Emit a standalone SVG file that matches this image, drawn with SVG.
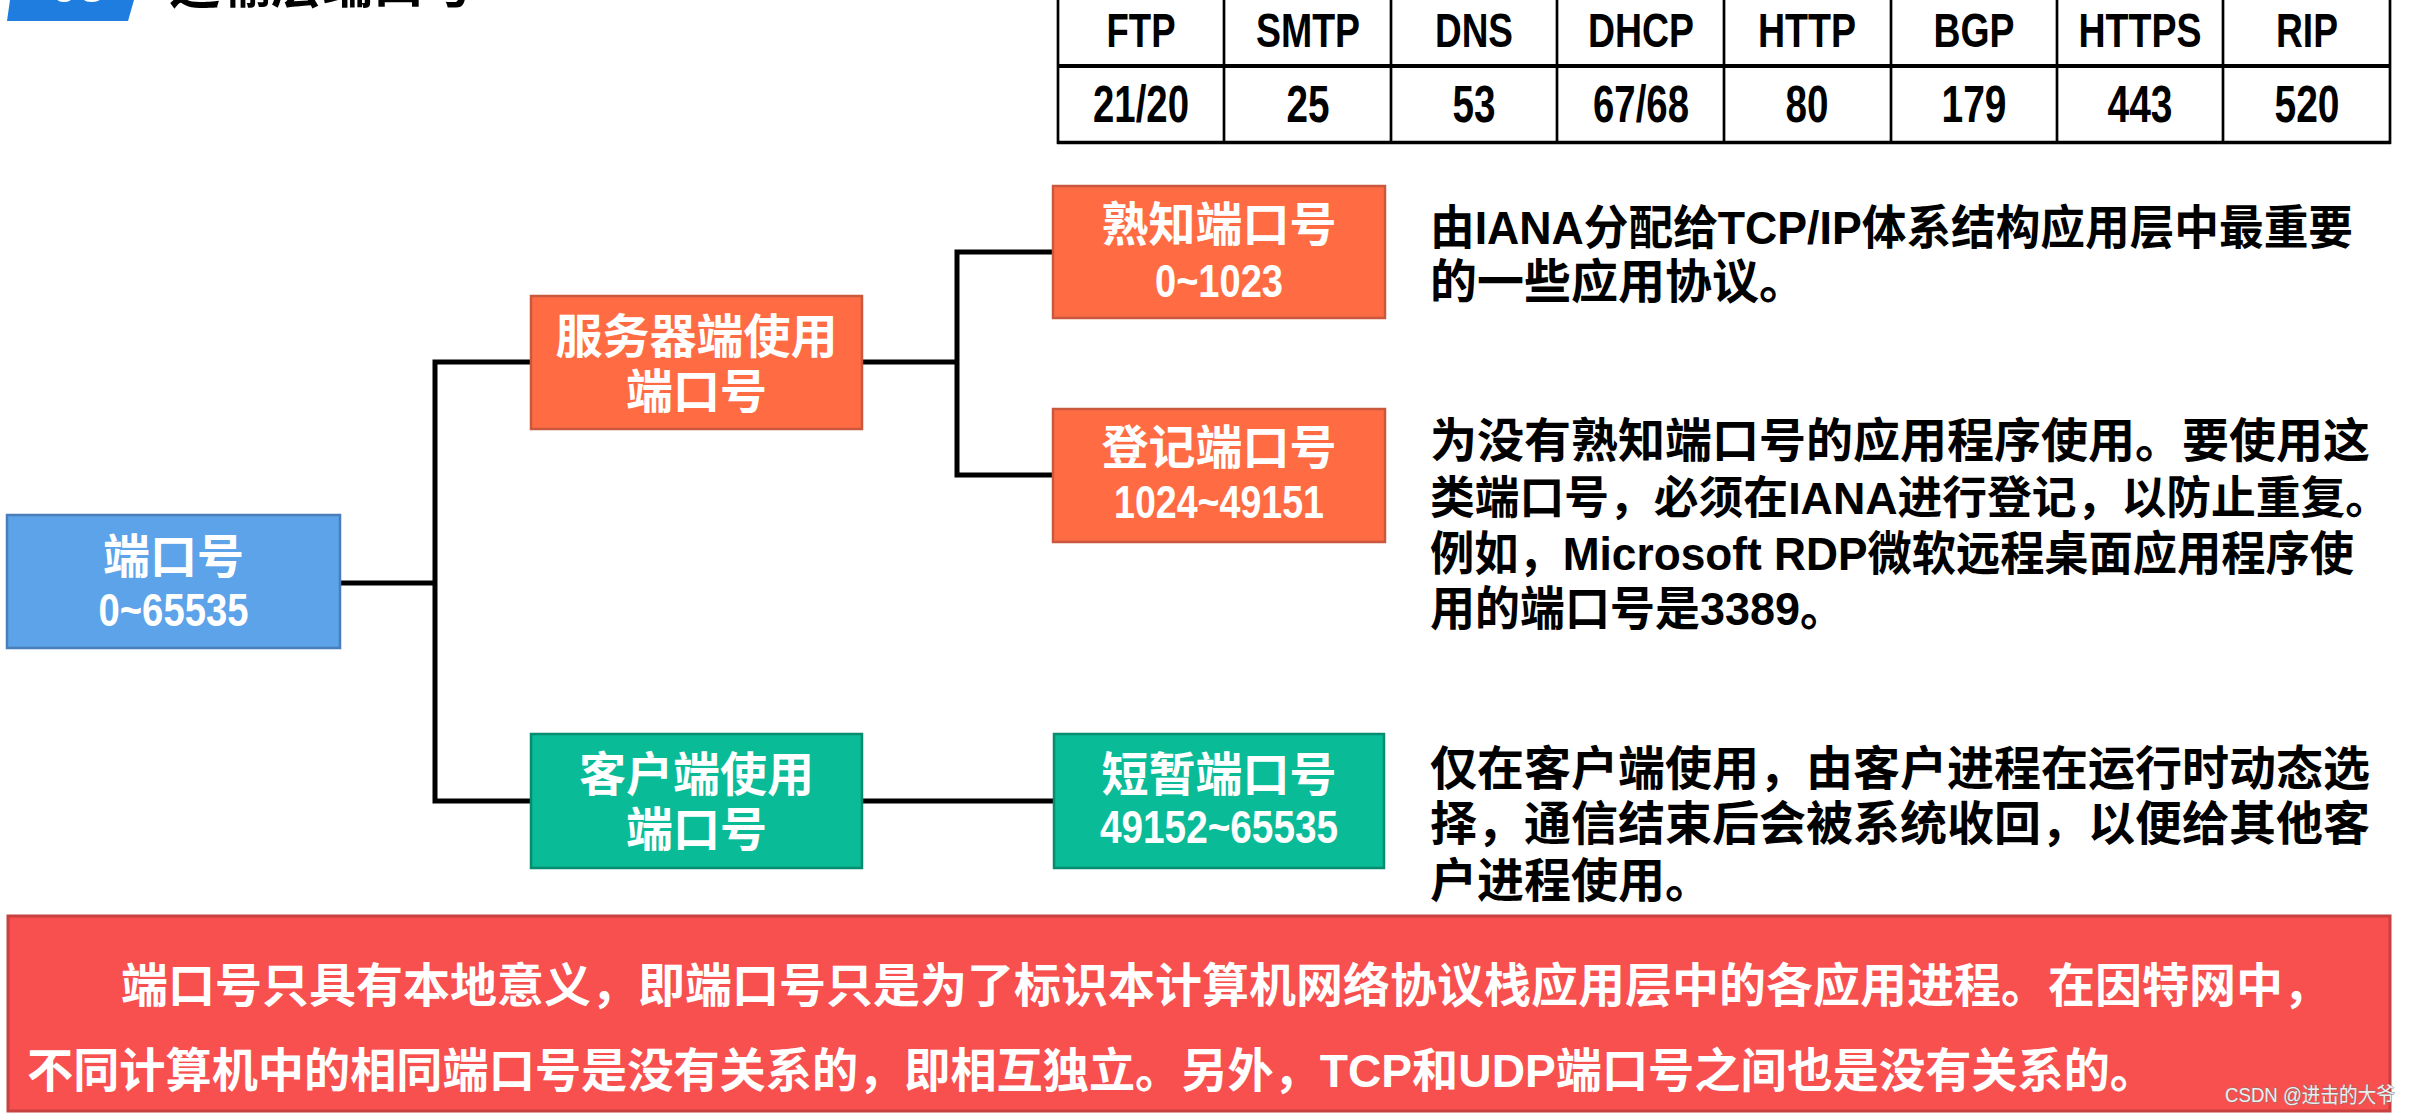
<svg xmlns="http://www.w3.org/2000/svg" width="2415" height="1116" viewBox="0 0 2415 1116">
<style>
.cjk{font-family:"Liberation Sans","Noto Sans CJK SC",sans-serif;font-weight:bold}
.nt{fill:#ffffff;font-size:47px;text-anchor:middle}
.desc{fill:#000000;font-size:47px}
.note{fill:#ffffff;font-size:47px}
.tb{fill:#000000;text-anchor:middle;font-family:"Liberation Sans",sans-serif;font-weight:bold}
.th{font-size:48px}
.td{font-size:52px}
.blue{fill:#5CA3E9;stroke:#4A7EBB;stroke-width:2.5}
.orange{fill:#FF6C44;stroke:#C9583C;stroke-width:2.5}
.green{fill:#0ABB97;stroke:#078C70;stroke-width:2.5}
.conn{fill:none;stroke:#000000;stroke-width:5;stroke-linecap:butt;stroke-linejoin:miter}
.grid{stroke:#000000;stroke-width:2.7}
</style>
<rect x="0" y="0" width="2415" height="1116" fill="#ffffff"/>

<g id="title">
  <polygon points="10,0 134,0 128,21 7,21" fill="#1E7DDF"/>
  <text x="78" y="2" class="cjk" font-size="50" fill="#ffffff" text-anchor="middle">05</text>
  <text x="169" y="3" class="cjk" font-size="51" fill="#000000">运输层端口号</text>
</g>

<g id="port-table">
  <line class="grid" x1="1058" y1="-5" x2="1058" y2="144"/>
  <line class="grid" x1="1224" y1="-5" x2="1224" y2="144"/>
  <line class="grid" x1="1391" y1="-5" x2="1391" y2="144"/>
  <line class="grid" x1="1557" y1="-5" x2="1557" y2="144"/>
  <line class="grid" x1="1724" y1="-5" x2="1724" y2="144"/>
  <line class="grid" x1="1891" y1="-5" x2="1891" y2="144"/>
  <line class="grid" x1="2057" y1="-5" x2="2057" y2="144"/>
  <line class="grid" x1="2223" y1="-5" x2="2223" y2="144"/>
  <line class="grid" x1="2390" y1="-5" x2="2390" y2="144"/>
  <line x1="1057" y1="66" x2="2391" y2="66" stroke="#000000" stroke-width="4"/>
  <line x1="1057" y1="142.5" x2="2391" y2="142.5" stroke="#000000" stroke-width="3.5"/>
  <text class="tb th" x="1141" y="47" textLength="69" lengthAdjust="spacingAndGlyphs">FTP</text>
  <text class="tb th" x="1308" y="47" textLength="104" lengthAdjust="spacingAndGlyphs">SMTP</text>
  <text class="tb th" x="1474" y="47" textLength="78" lengthAdjust="spacingAndGlyphs">DNS</text>
  <text class="tb th" x="1641" y="47" textLength="106" lengthAdjust="spacingAndGlyphs">DHCP</text>
  <text class="tb th" x="1807" y="47" textLength="98" lengthAdjust="spacingAndGlyphs">HTTP</text>
  <text class="tb th" x="1974" y="47" textLength="81" lengthAdjust="spacingAndGlyphs">BGP</text>
  <text class="tb th" x="2140" y="47" textLength="123" lengthAdjust="spacingAndGlyphs">HTTPS</text>
  <text class="tb th" x="2307" y="47" textLength="62" lengthAdjust="spacingAndGlyphs">RIP</text>
  <text class="tb td" x="1141" y="122" textLength="96" lengthAdjust="spacingAndGlyphs">21/20</text>
  <text class="tb td" x="1308" y="122" textLength="43" lengthAdjust="spacingAndGlyphs">25</text>
  <text class="tb td" x="1474" y="122" textLength="43" lengthAdjust="spacingAndGlyphs">53</text>
  <text class="tb td" x="1641" y="122" textLength="96" lengthAdjust="spacingAndGlyphs">67/68</text>
  <text class="tb td" x="1807" y="122" textLength="43" lengthAdjust="spacingAndGlyphs">80</text>
  <text class="tb td" x="1974" y="122" textLength="65" lengthAdjust="spacingAndGlyphs">179</text>
  <text class="tb td" x="2140" y="122" textLength="65" lengthAdjust="spacingAndGlyphs">443</text>
  <text class="tb td" x="2307" y="122" textLength="65" lengthAdjust="spacingAndGlyphs">520</text>
</g>

<g id="connectors">
  <path class="conn" d="M340 583 H435"/>
  <path class="conn" d="M531 362 H435 V801 H531"/>
  <path class="conn" d="M862 362 H957"/>
  <path class="conn" d="M1053 252 H957 V475 H1053"/>
  <path class="conn" d="M862 801 H1054"/>
</g>

<g id="node-port">
  <rect class="blue" x="7" y="515" width="333" height="133"/>
  <text class="cjk nt" x="173.5" y="573">端口号</text>
  <text class="cjk nt" x="173.5" y="626" textLength="150" lengthAdjust="spacingAndGlyphs">0~65535</text>
</g>

<g id="node-server">
  <rect class="orange" x="531" y="296" width="331" height="133"/>
  <text class="cjk nt" x="696.5" y="353">服务器端使用</text>
  <text class="cjk nt" x="696.5" y="408">端口号</text>
</g>

<g id="node-client">
  <rect class="green" x="531" y="734" width="331" height="134"/>
  <text class="cjk nt" x="696.5" y="791">客户端使用</text>
  <text class="cjk nt" x="696.5" y="846">端口号</text>
</g>

<g id="node-wellknown">
  <rect class="orange" x="1053" y="186" width="332" height="132"/>
  <text class="cjk nt" x="1219" y="241">熟知端口号</text>
  <text class="cjk nt" x="1219" y="297" textLength="128" lengthAdjust="spacingAndGlyphs">0~1023</text>
</g>

<g id="node-registered">
  <rect class="orange" x="1053" y="409" width="332" height="133"/>
  <text class="cjk nt" x="1219" y="464">登记端口号</text>
  <text class="cjk nt" x="1219" y="518" textLength="210" lengthAdjust="spacingAndGlyphs">1024~49151</text>
</g>

<g id="node-ephemeral">
  <rect class="green" x="1054" y="734" width="330" height="134"/>
  <text class="cjk nt" x="1219" y="791">短暂端口号</text>
  <text class="cjk nt" x="1219" y="843" textLength="238" lengthAdjust="spacingAndGlyphs">49152~65535</text>
</g>

<g id="desc-wellknown">
  <text class="cjk desc" x="1430" y="244" textLength="923" lengthAdjust="spacingAndGlyphs">由IANA分配给TCP/IP体系结构应用层中最重要</text>
  <text class="cjk desc" x="1430" y="298">的一些应用协议。</text>
</g>

<g id="desc-registered">
  <text class="cjk desc" x="1430" y="457">为没有熟知端口号的应用程序使用。要使用这</text>
  <text class="cjk desc" x="1430" y="514" style="font-size:45px" textLength="960" lengthAdjust="spacingAndGlyphs">类端口号，必须在IANA进行登记，以防止重复。</text>
  <text class="cjk desc" x="1430" y="570" textLength="924" lengthAdjust="spacingAndGlyphs">例如，Microsoft RDP微软远程桌面应用程序使</text>
  <text class="cjk desc" x="1430" y="625" textLength="415" lengthAdjust="spacingAndGlyphs">用的端口号是3389。</text>
</g>

<g id="desc-ephemeral">
  <text class="cjk desc" x="1430" y="785">仅在客户端使用，由客户进程在运行时动态选</text>
  <text class="cjk desc" x="1430" y="840">择，通信结束后会被系统收回，以便给其他客</text>
  <text class="cjk desc" x="1430" y="897">户进程使用。</text>
</g>

<g id="note">
  <rect x="8" y="916" width="2382" height="195" fill="#F84F4F" stroke="#C8403F" stroke-width="3"/>
  <text class="cjk note" x="121" y="1002">端口号只具有本地意义，即端口号只是为了标识本计算机网络协议栈应用层中的各应用进程。在因特网中，</text>
  <text class="cjk note" x="27" y="1087" textLength="2129" lengthAdjust="spacingAndGlyphs">不同计算机中的相同端口号是没有关系的，即相互独立。另外，TCP和UDP端口号之间也是没有关系的。</text>
</g>

<text x="2225" y="1102" font-family="Liberation Sans,'Noto Sans CJK SC',sans-serif" font-size="21" fill="#EEEEEE" stroke="#7A7A7A" stroke-width="0.8" paint-order="stroke" textLength="170" lengthAdjust="spacingAndGlyphs">CSDN @进击的大爷</text>
</svg>
